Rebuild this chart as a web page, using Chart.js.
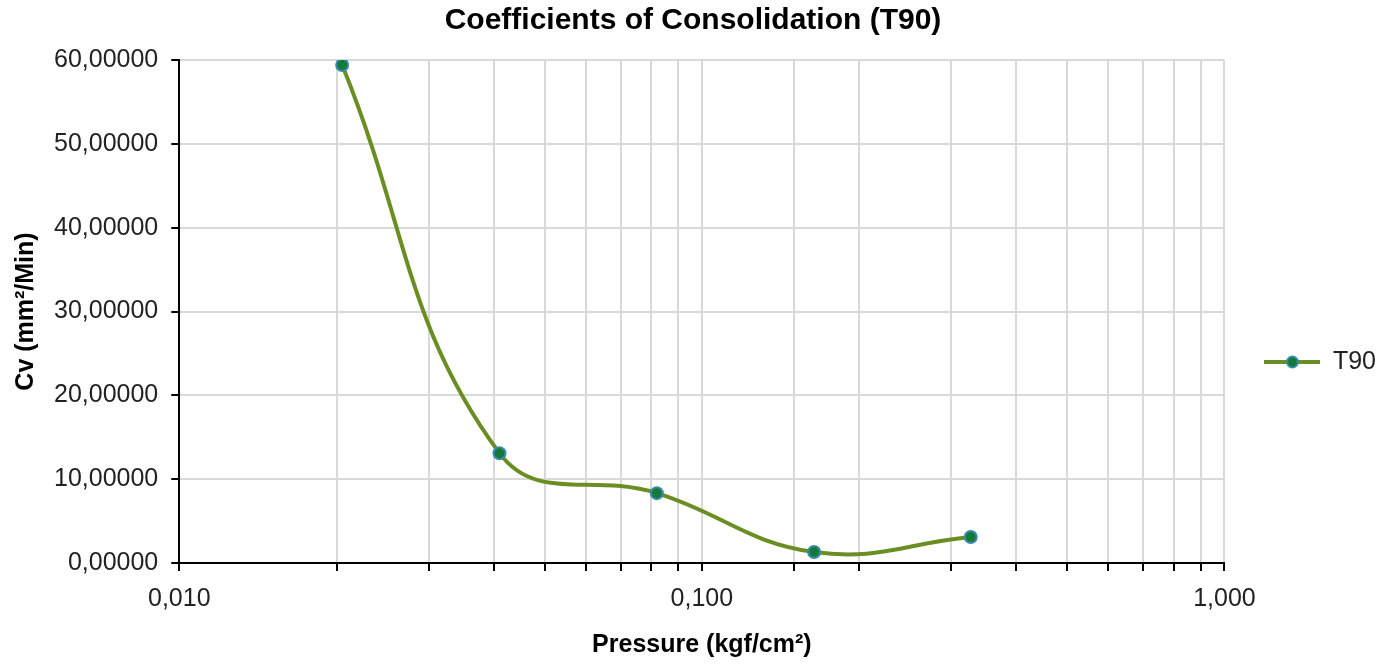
<!DOCTYPE html>
<html>
<head>
<meta charset="utf-8">
<title>Coefficients of Consolidation (T90)</title>
<script src="https://cdn.jsdelivr.net/npm/chart.js@4/dist/chart.umd.min.js"></script>
<style>
  html, body { margin: 0; padding: 0; background: #fff; }
  canvas { display: block; }
</style>
</head>
<body>
<canvas id="chart" width="1394" height="666"></canvas>
<script>
// data
const pressures = [0.0205, 0.041, 0.082, 0.164, 0.327]; // kgf/cm²
const cvT90 = [59.4, 13.1, 8.33, 1.31, 3.1];           // mm²/Min
const seriesName = 'T90';
const xMin = 0.01, xMax = 1;
const yMin = 0, yMax = 60, yStep = 10;

const lineColor = '#6b8e23';
const pointFill = '#137a3c';
const pointEdge = '#3a8aa8';
const gridColor = '#d9d9d9';
const font = 'Liberation Sans, Arial, sans-serif';

// legend sample: line with a marker on it
function legendSample() {
  const c = document.createElement('canvas');
  c.width = 56;
  c.height = 16;
  const g = c.getContext('2d');
  g.strokeStyle = lineColor;
  g.lineWidth = 4;
  g.beginPath();
  g.moveTo(0, 8);
  g.lineTo(56, 8);
  g.stroke();
  g.beginPath();
  g.arc(28, 8, 5.5, 0, Math.PI * 2);
  g.fillStyle = pointFill;
  g.fill();
  g.lineWidth = 2;
  g.strokeStyle = pointEdge;
  g.stroke();
  return c;
}

const isMajor = v => Math.abs(Math.log10(v) - Math.round(Math.log10(v))) < 1e-9;

new Chart(document.getElementById('chart'), {
  type: 'line',
  data: {
    datasets: [{
      label: seriesName,
      data: pressures.map((p, i) => ({ x: p, y: cvT90[i] })),
      borderColor: lineColor,
      borderWidth: 4,
      tension: 0.42,
      pointRadius: 6,
      pointBackgroundColor: pointFill,
      pointBorderColor: pointEdge,
      pointBorderWidth: 2,
      fill: false
    }]
  },
  options: {
    responsive: false,
    animation: false,
    layout: { padding: { right: 8 } },
    plugins: {
      title: {
        display: true,
        text: 'Coefficients of Consolidation (T90)',
        color: '#000',
        font: { family: font, size: 30, weight: 'bold' },
        padding: { top: 3, bottom: 21 }
      },
      legend: {
        position: 'right',
        title: { display: true, text: ' ', font: { size: 10 }, padding: { top: 46, bottom: 0 } },
        labels: {
          usePointStyle: true,
          pointStyle: legendSample(),
          pointStyleWidth: 56,
          padding: 40,
          color: '#222',
          font: { family: font, size: 25 }
        }
      },
      tooltip: { enabled: false }
    },
    scales: {
      x: {
        type: 'logarithmic',
        min: xMin,
        max: xMax,
        border: { color: '#000', width: 2 },
        grid: { color: gridColor, lineWidth: 2, tickColor: '#000', tickLength: 8, tickWidth: 2 },
        ticks: {
          autoSkip: false,
          maxRotation: 0,
          padding: 13,
          color: '#222',
          font: { family: font, size: 25 },
          callback: v => isMajor(v) ? v.toFixed(3).replace('.', ',') : ''
        },
        title: {
          display: true,
          text: 'Pressure (kgf/cm²)',
          color: '#000',
          font: { family: font, size: 25, weight: 'bold' },
          padding: { top: 3, bottom: 6 }
        }
      },
      y: {
        min: yMin,
        max: yMax,
        border: { color: '#000', width: 2 },
        grid: { color: gridColor, lineWidth: 2, tickColor: '#000', tickLength: 8, tickWidth: 2 },
        ticks: {
          stepSize: yStep,
          padding: 13,
          color: '#222',
          font: { family: font, size: 25 },
          callback: v => v.toFixed(5).replace('.', ',')
        },
        title: {
          display: true,
          text: 'Cv (mm²/Min)',
          color: '#000',
          font: { family: font, size: 25, weight: 'bold' },
          padding: { top: 11, bottom: 0 }
        }
      }
    }
  }
});
</script>
</body>
</html>
